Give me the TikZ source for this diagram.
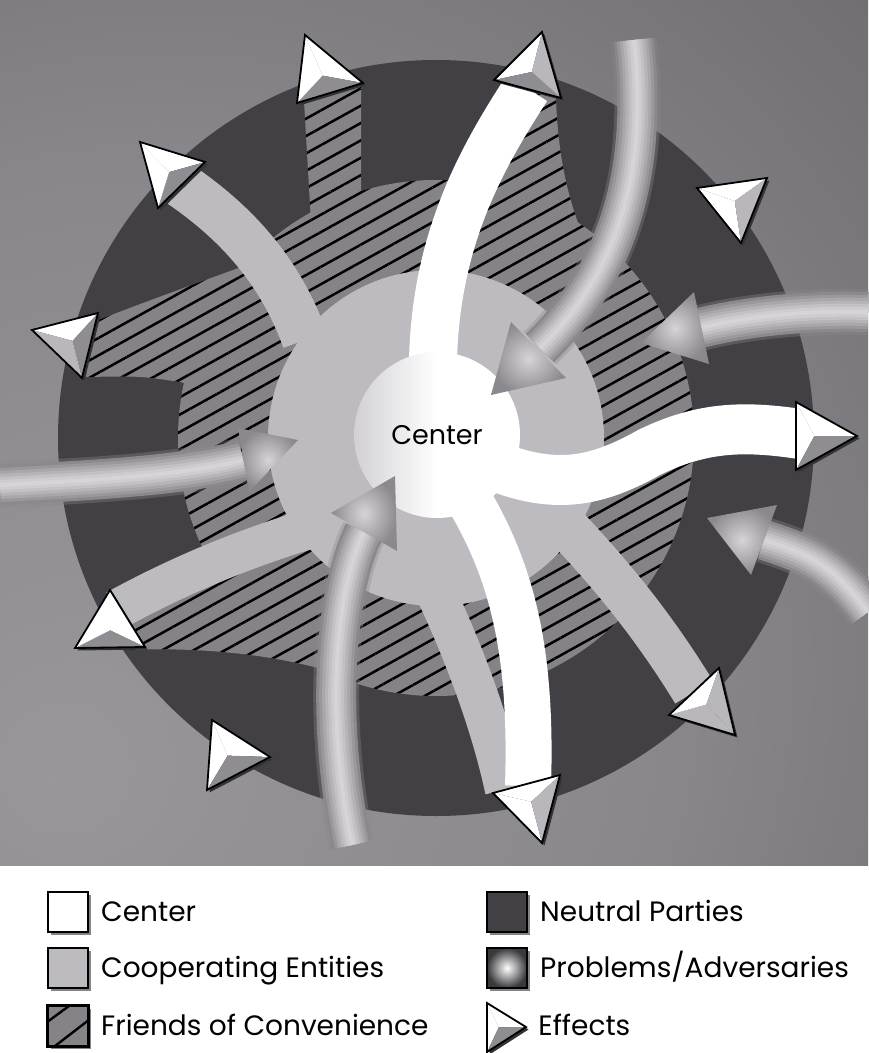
\documentclass[tikz,border=0pt]{standalone}
\usepackage{fontspec}
\setmainfont{Poppins}
\usetikzlibrary{positioning, calc, patterns.meta, shadows}

\definecolor{NeutralInk}{HTML}{423F45}
\definecolor{FriendsGray}{HTML}{858388}
\definecolor{CoopGray}{HTML}{BDBBBF}
\definecolor{CoreRim}{HTML}{D2D0D4}
\definecolor{ProbDark}{HTML}{8B898E}
\definecolor{ProbHigh}{HTML}{D6D4D8}
\definecolor{ProbEdge}{HTML}{3A383C}
\definecolor{FaceGray}{HTML}{8F8D92}
\definecolor{FaceSoft}{HTML}{B9B7BB}

\pgfdeclareradialshading{panelglow}{\pgfpoint{-22bp}{-20bp}}{%
  rgb(0bp)=(0.60,0.59,0.61); rgb(30bp)=(0.54,0.53,0.55);
  rgb(60bp)=(0.41,0.40,0.42); rgb(90bp)=(0.32,0.31,0.33); rgb(120bp)=(0.30,0.29,0.31)}

\tikzset{
  neutral/.style    = {fill=NeutralInk},
  friends/.style    = {fill=FriendsGray, postaction={pattern color=black,
                       pattern={Lines[angle=29, distance=7.6pt, line width=1.25pt]}}},
  coop/.style       = {fill=CoopGray},
  coopband/.style   = {draw=CoopGray, line width=23pt},
  coreband/.style   = {draw=white, line width=24pt},
  coredisc/.style   = {circle, minimum size=83pt, inner sep=0pt, left color=CoreRim,
                       right color=white, middle color=white,
                       font=\fontsize{13.5}{16}\selectfont},
  probtube/.style   = {draw=ProbDark, line width=23pt, draw opacity=.35,
                       postaction={draw=ProbDark, draw opacity=1, line width=20pt},
                       postaction={draw=ProbDark!80!ProbHigh, draw opacity=1, line width=17pt},
                       postaction={draw=ProbDark!60!ProbHigh, draw opacity=1, line width=14pt},
                       postaction={draw=ProbDark!42!ProbHigh, draw opacity=1, line width=11pt},
                       postaction={draw=ProbDark!25!ProbHigh, draw opacity=1, line width=8pt},
                       postaction={draw=ProbDark!10!ProbHigh, draw opacity=1, line width=5pt},
                       postaction={draw=ProbHigh, draw opacity=1, line width=2pt}},
  probhead/.style   = {inner color=ProbHigh, outer color=ProbDark},
  effectedge/.style = {draw=black, line width=0.9pt, line join=miter},
  keybox/.style     = {draw=black, line width=0.8pt, minimum size=20pt, inner sep=0pt,
                       drop shadow={shadow xshift=1.3pt, shadow yshift=-1.3pt,
                       fill=black!60, opacity=.8}},
  keytext/.style    = {font=\fontsize{14}{16}\selectfont, inner sep=0pt,
                       text height=9.8pt, text depth=0pt, anchor=west},
}

% effect head: tip (#1t), back corners (#1a) (#1b); faces tip-a, back, b-tip
\newcommand{\effecthead}[4]{%
  \coordinate (#1m) at ($(#1a)!.5!(#1b)$);
  \coordinate (#1p) at ($(#1m)!.3!(#1t)$);
  \fill[black!80] ($(#1t)+(2.5,2.5)$) -- ($(#1a)+(2.5,2.5)$) -- ($(#1b)+(2.5,2.5)$) -- cycle;
  \fill[#2] (#1p) -- (#1t) -- (#1a) -- cycle;
  \fill[#3] (#1p) -- (#1a) -- (#1b) -- cycle;
  \fill[#4] (#1p) -- (#1b) -- (#1t) -- cycle;
  \draw[effectedge] (#1t) -- (#1a) -- (#1b) -- cycle;
}

\begin{document}
\begin{tikzpicture}[x=0.5pt, y=-0.5pt]
  \useasboundingbox (0,0) rectangle (868,1053);
  \shade[shading=panelglow] (0,0) rectangle (868,866);
  \fill[white] (0,866) rectangle (868,1053);
  \coordinate (hub) at (436,438);

  % neutral parties
  \fill[neutral] (hub) circle[radius=378];

  % friends of convenience
  \path[friends] (hub) circle[radius=258];
  \path[friends] (304,101) -- (361,86) -- (361,240) -- (312,240) -- cycle;
  \path[friends] (93,322) .. controls (150,300) and (200,282) .. (255,262)
    -- (255,400) -- (180,382) .. controls (140,376) .. (86,377) -- cycle;
  \path[friends] (505,86) -- (556,98) .. controls (558,160) and (570,225) .. (608,282)
    -- (470,300) -- cycle;
  \path[friends] (112,615) .. controls (200,575) and (280,552) .. (345,540)
    -- (385,690) .. controls (330,668) and (250,645) .. (125,650) -- cycle;

  % cooperating entities
  \fill[coop] (hub) circle[radius=168];
  \draw[coopband] (181,185) .. controls (235,222) and (280,270) .. (305,340);
  \draw[coopband, line width=20pt] (116,610) .. controls (180,575) and (250,545) .. (340,520);
  \draw[coopband, line width=22pt] (540,500) .. controls (600,560) and (650,620) .. (694,692);
  \draw[coopband, line width=20pt] (420,560) .. controls (460,640) and (490,720) .. (505,790);

  % center
  \draw[coreband] (433,360) .. controls (436,240) and (480,160) .. (527,88);
  \draw[coreband, line width=25pt] (500,468) .. controls (560,490) and (600,480) .. (650,452)
    .. controls (700,428) and (740,425) .. (800,434);
  \draw[coreband, line width=23pt] (472,505) .. controls (515,580) and (532,660) .. (528,786);
  \node[coredisc] (core) at (437,435) {Center};

  % problems / adversaries
  \draw[probtube] (634,40) .. controls (648,170) and (620,270) .. (540,348);
  \path[probhead] (491,395) -- (511,322) -- (566,378) -- cycle;
  \draw[probtube] (868,312) .. controls (800,310) and (740,318) .. (700,328);
  \path[probhead] (641,343) -- (694,292) -- (709,364) -- cycle;
  \draw[probtube] (868,612) .. controls (830,560) and (800,552) .. (764,540);
  \path[probhead] (707,518) -- (777,505) -- (751,575) -- cycle;
  \draw[probtube] (352,845) .. controls (325,720) and (335,590) .. (364,532);
  \path[probhead] (395,476) -- (331,513) -- (397,551) -- cycle;
  \draw[probtube] (0,485) .. controls (100,480) and (185,475) .. (243,460);
  \path[probhead] (298,440) -- (238,428) -- (249,492) -- cycle;

  % effects
  \coordinate (e1t) at (305,35);  \coordinate (e1a) at (363,83);  \coordinate (e1b) at (297,103);
  \effecthead{e1}{white}{FaceGray}{white}
  \coordinate (e2t) at (140,142); \coordinate (e2a) at (205,162); \coordinate (e2b) at (158,208);
  \effecthead{e2}{white}{FaceGray}{white}
  \coordinate (e3t) at (32,330);  \coordinate (e3a) at (98,313);  \coordinate (e3b) at (82,378);
  \effecthead{e3}{white}{FaceGray}{FaceSoft}
  \coordinate (e4t) at (542,32);  \coordinate (e4a) at (494,80);  \coordinate (e4b) at (561,98);
  \effecthead{e4}{white}{FaceGray}{FaceSoft}
  \coordinate (e5t) at (741,243); \coordinate (e5a) at (697,188); \coordinate (e5b) at (767,178);
  \effecthead{e5}{white}{white}{FaceSoft}
  \coordinate (e6t) at (857,436); \coordinate (e6a) at (796,402); \coordinate (e6b) at (796,470);
  \effecthead{e6}{white}{white}{FaceGray}
  \coordinate (e7t) at (735,735); \coordinate (e7a) at (669,715); \coordinate (e7b) at (719,668);
  \effecthead{e7}{FaceSoft}{white}{FaceSoft}
  \coordinate (e8t) at (542,843); \coordinate (e8a) at (493,793); \coordinate (e8b) at (560,775);
  \effecthead{e8}{white}{white}{FaceSoft}
  \coordinate (e9t) at (270,757); \coordinate (e9a) at (212,720); \coordinate (e9b) at (207,790);
  \effecthead{e9}{white}{white}{FaceGray}
  \coordinate (e10t) at (110,590); \coordinate (e10a) at (145,647); \coordinate (e10b) at (75,648);
  \effecthead{e10}{white}{FaceGray}{white}

  % legend
  \node[keybox, fill=white] (keycenter) at (68,912) {};
  \node[keytext, right=6pt of keycenter] (keycentertxt) {Center};
  \node[keybox, fill=CoopGray] (keycoop) at (68,968) {};
  \node[keytext, right=6pt of keycoop] (keycooptxt) {Cooperating Entities};
  \node[keybox, fill=FriendsGray] (keyfriends) at (68,1026) {};
  \draw[line width=1.2pt] ($(keyfriends.west)+(0,-4)$) -- ($(keyfriends.north)+(2,0)$);
  \draw[line width=1.2pt] ($(keyfriends.south)+(-14,0)$) -- ($(keyfriends.east)+(0,-6)$);
  \draw[line width=0.8pt] (keyfriends.south west) rectangle (keyfriends.north east);
  \node[keytext, right=6pt of keyfriends] (keyfriendstxt) {Friends of Convenience};

  \node[keybox, fill=NeutralInk] (keyneutral) at (507,912) {};
  \node[keytext, right=6pt of keyneutral] (keyneutraltxt) {Neutral Parties};
  \node[keybox, inner color=white, outer color=ProbEdge] (keyprob) at (507,968) {};
  \node[keytext, right=6pt of keyprob] (keyprobtxt) {Problems/Adversaries};
  \coordinate (kt) at (526,1027); \coordinate (ka) at (487,1003); \coordinate (kb) at (487,1052);
  \effecthead{k}{white}{white}{FaceGray}
  \node[keytext] (keyeffecttxt) at (538,1026) {Effects};
\end{tikzpicture}
\end{document}
